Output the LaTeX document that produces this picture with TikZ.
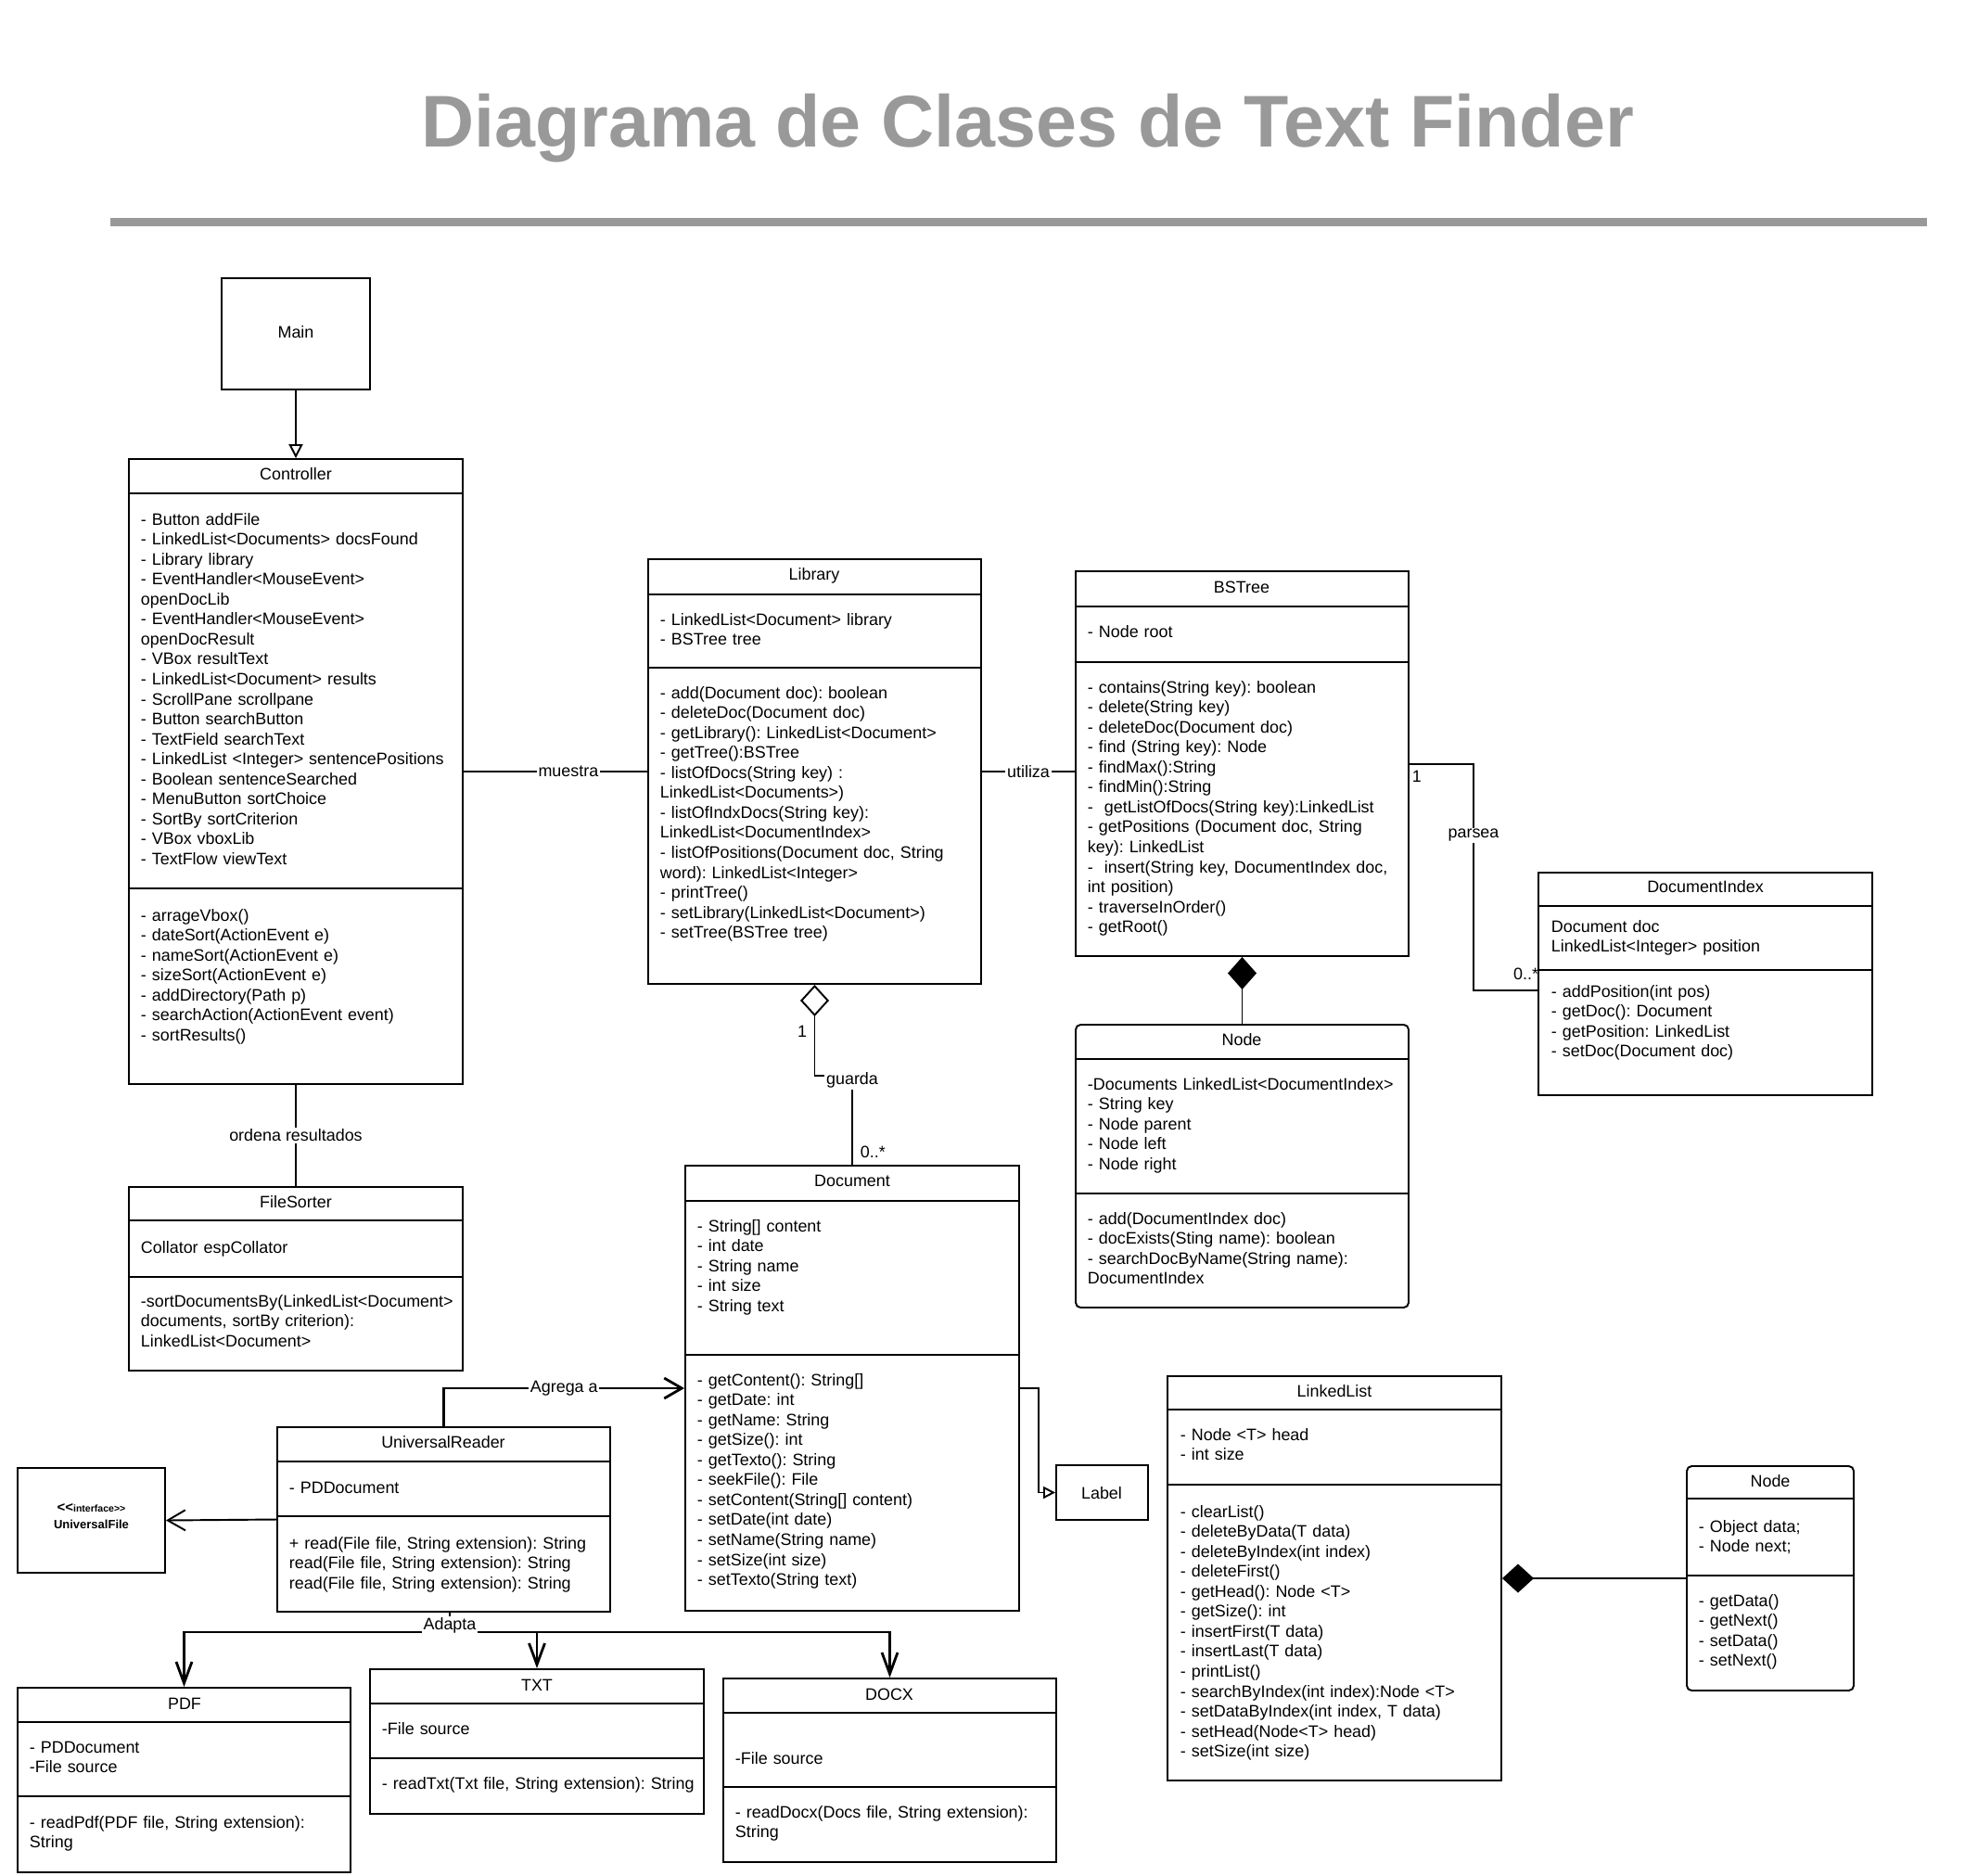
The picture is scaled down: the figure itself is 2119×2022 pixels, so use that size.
\documentclass[tikz,border=0pt]{standalone}
\usepackage{fontspec}
\setmainfont{Liberation Sans}
\usetikzlibrary{arrows.meta, fit}
\definecolor{titlegray}{HTML}{999999}
\frenchspacing

\begin{document}
\begin{tikzpicture}[x=0.02cm, y=-0.02cm, line width=1.1pt,
    every node/.style={font=\fontsize{10.2}{12.27}\selectfont},
    cls/.style={draw, inner sep=0pt},
    rcls/.style={cls, rounded corners=3pt},
    ttl/.style={anchor=base},
    txt/.style={anchor=base west, align=left, text width=8cm, inner sep=0pt},
    lab/.style={fill=white, inner sep=1pt},
    gen/.style={-{Triangle[open, length=0.3cm, width=0.3cm]}},
    barb/.style={-{Straight Barb[length=0.38cm, width=0.44cm]}},
    adapt/.style={line width=1.6pt, -{Straight Barb[length=0.46cm, width=0.34cm]}}]
    \useasboundingbox (0,0) rectangle (2119,2022);

    % 1. 标题与分隔线
    \node[ttl, font=\fontsize{45}{54}\selectfont\bfseries, text=titlegray] (title) at (1108,158) {Diagrama de Clases de Text Finder};
    \draw[titlegray, line width=0.18cm] (119,239) -- (2078,239);

    % 2. Main, Controller, FileSorter
    \node[cls, fit={(239,300) (399,420)}] (main) {};
    \node[ttl] (main-n) at (319,364) {Main};

    \node[cls, fit={(139,495) (499,1169)}] (ctrl) {};
    \draw (139,532) -- (499,532) (139,958) -- (499,958);
    \node[ttl] (ctrl-n) at (319,517) {Controller};
    \node[txt] (ctrl-a) at (151,566) {- Button addFile\\- LinkedList<Documents> docsFound\\- Library library\\- EventHandler<MouseEvent>\\openDocLib\\- EventHandler<MouseEvent>\\openDocResult\\- VBox resultText\\- LinkedList<Document> results\\- ScrollPane scrollpane\\- Button searchButton\\- TextField searchText\\- LinkedList <Integer> sentencePositions\\- Boolean sentenceSearched\\- MenuButton sortChoice\\- SortBy sortCriterion\\- VBox vboxLib\\- TextFlow viewText};
    \node[txt] (ctrl-m) at (151,993) {- arrageVbox()\\- dateSort(ActionEvent e)\\- nameSort(ActionEvent e)\\- sizeSort(ActionEvent e)\\- addDirectory(Path p)\\- searchAction(ActionEvent event)\\- sortResults()};

    \node[cls, fit={(139,1280) (499,1478)}] (fs) {};
    \draw (139,1316) -- (499,1316) (139,1377) -- (499,1377);
    \node[ttl] (fs-n) at (319,1302) {FileSorter};
    \node[txt] (fs-a) at (151,1351) {Collator espCollator};
    \node[txt] (fs-m) at (151,1409) {-sortDocumentsBy(LinkedList<Document>\\documents, sortBy criterion):\\LinkedList<Document>};

    % 3. Library, BSTree, Node, DocumentIndex
    \node[cls, fit={(699,603) (1058,1061)}] (lib) {};
    \draw (699,641) -- (1058,641) (699,720) -- (1058,720);
    \node[ttl] (lib-n) at (878,625) {Library};
    \node[txt] (lib-a) at (711,674) {- LinkedList<Document> library\\- BSTree tree};
    \node[txt] (lib-m) at (711,753) {- add(Document doc): boolean\\- deleteDoc(Document doc)\\- getLibrary(): LinkedList<Document>\\- getTree():BSTree\\- listOfDocs(String key) :\\LinkedList<Documents>)\\- listOfIndxDocs(String key):\\LinkedList<DocumentIndex>\\- listOfPositions(Document doc, String\\word): LinkedList<Integer>\\- printTree()\\- setLibrary(LinkedList<Document>)\\- setTree(BSTree tree)};

    \node[cls, fit={(1160,616) (1519,1031)}] (bst) {};
    \draw (1160,654) -- (1519,654) (1160,714) -- (1519,714);
    \node[ttl] (bst-n) at (1339,639) {BSTree};
    \node[txt] (bst-a) at (1172,687) {- Node root};
    \node[txt] (bst-m) at (1172,747) {- contains(String key): boolean\\- delete(String key)\\- deleteDoc(Document doc)\\- find (String key): Node\\- findMax():String\\- findMin():String\\-\ \ getListOfDocs(String key):LinkedList\\- getPositions (Document doc, String\\key): LinkedList\\-\ \ insert(String key, DocumentIndex doc,\\int position)\\- traverseInOrder()\\- getRoot()};

    \node[rcls, fit={(1160,1105) (1519,1410)}] (tnode) {};
    \draw (1160,1142) -- (1519,1142) (1160,1287) -- (1519,1287);
    \node[ttl] (tnode-n) at (1339,1127) {Node};
    \node[txt] (tnode-a) at (1172,1175) {-Documents LinkedList<DocumentIndex>\\- String key\\- Node parent\\- Node left\\- Node right};
    \node[txt] (tnode-m) at (1172,1320) {- add(DocumentIndex doc)\\- docExists(Sting name): boolean\\- searchDocByName(String name):\\DocumentIndex};

    \node[cls, fit={(1659,941) (2019,1181)}] (dix) {};
    \draw (1659,977) -- (2019,977) (1659,1046) -- (2019,1046);
    \node[ttl] (dix-n) at (1839,962) {DocumentIndex};
    \node[txt] (dix-a) at (1672,1005) {Document doc\\LinkedList<Integer> position};
    \node[txt] (dix-m) at (1672,1075) {- addPosition(int pos)\\- getDoc(): Document\\- getPosition: LinkedList\\- setDoc(Document doc)};

    % 4. Document, Label, UniversalReader, UniversalFile
    \node[cls, fit={(739,1257) (1099,1737)}] (doc) {};
    \draw (739,1295) -- (1099,1295) (739,1461) -- (1099,1461);
    \node[ttl] (doc-n) at (919,1279) {Document};
    \node[txt] (doc-a) at (751,1328) {- String[] content\\- int date\\- String name\\- int size\\- String text};
    \node[txt] (doc-m) at (751,1494) {- getContent(): String[]\\- getDate: int\\- getName: String\\- getSize(): int\\- getTexto(): String\\- seekFile(): File\\- setContent(String[] content)\\- setDate(int date)\\- setName(String name)\\- setSize(int size)\\- setTexto(String text)};

    \node[cls, fit={(1139,1580) (1238,1639)}] (lbl) {};
    \node[ttl] (lbl-n) at (1188,1616) {Label};

    \node[cls, fit={(299,1539) (658,1738)}] (ur) {};
    \draw (299,1576) -- (658,1576) (299,1635) -- (658,1635);
    \node[ttl] (ur-n) at (478,1561) {UniversalReader};
    \node[txt] (ur-a) at (311,1610) {- PDDocument};
    \node[txt] (ur-m) at (311,1670) {+ read(File file, String extension): String\\read(File file, String extension): String\\read(File file, String extension): String};

    \node[cls, fit={(19,1583) (178,1696)}, align=center, font=\fontsize{7.4}{10}\selectfont\bfseries] (uf) {{\fontsize{8.5}{10}\selectfont<\kern0pt<}{\fontsize{6}{10}\selectfont interface>\kern0pt>}\\UniversalFile};

    % 5. PDF, TXT, DOCX
    \node[cls, fit={(19,1820) (378,2019)}] (pdf) {};
    \draw (19,1857) -- (378,1857) (19,1937) -- (378,1937);
    \node[ttl] (pdf-n) at (199,1843) {PDF};
    \node[txt] (pdf-a) at (31,1890) {- PDDocument\\-File source};
    \node[txt] (pdf-m) at (31,1971) {- readPdf(PDF file, String extension):\\String};

    \node[cls, fit={(399,1800) (759,1956)}] (txt) {};
    \draw (399,1837) -- (759,1837) (399,1896) -- (759,1896);
    \node[ttl] (txt-n) at (579,1823) {TXT};
    \node[txt] (txt-a) at (411,1870) {-File source};
    \node[txt] (txt-m) at (411,1929) {- readTxt(Txt file, String extension): String};

    \node[cls, fit={(780,1810) (1139,2008)}] (docx) {};
    \draw (780,1847) -- (1139,1847) (780,1927) -- (1139,1927);
    \node[ttl] (docx-n) at (959,1833) {DOCX};
    \node[txt] (docx-a) at (792,1902) {-File source};
    \node[txt] (docx-m) at (792,1960) {- readDocx(Docs file, String extension):\\String};

    % 6. LinkedList 与 Node
    \node[cls, fit={(1259,1484) (1619,1920)}] (ll) {};
    \draw (1259,1520) -- (1619,1520) (1259,1601) -- (1619,1601);
    \node[ttl] (ll-n) at (1439,1506) {LinkedList};
    \node[txt] (ll-a) at (1272,1553) {- Node <T> head\\- int size};
    \node[txt] (ll-m) at (1272,1636) {- clearList()\\- deleteByData(T data)\\- deleteByIndex(int index)\\- deleteFirst()\\- getHead(): Node <T>\\- getSize(): int\\- insertFirst(T data)\\- insertLast(T data)\\- printList()\\- searchByIndex(int index):Node <T>\\- setDataByIndex(int index, T data)\\- setHead(Node<T> head)\\- setSize(int size)};

    \node[rcls, fit={(1819,1581) (1999,1823)}] (lnode) {};
    \draw (1819,1616) -- (1999,1616) (1819,1699) -- (1999,1699);
    \node[ttl] (lnode-n) at (1909,1603) {Node};
    \node[txt] (lnode-a) at (1831,1652) {- Object data;\\- Node next;};
    \node[txt] (lnode-m) at (1831,1732) {- getData()\\- getNext()\\- setData()\\- setNext()};

    % 7. 关系连线与标注
    \draw[gen] (main.south) -- (ctrl.north);
    \draw (ctrl.east) -- node[lab, pos=0.57] (muestra) {muestra} (lib.west);
    \draw (ctrl.south) -- node[lab] (ordena) {ordena resultados} (fs.north);
    \draw (lib.east) -- node[lab] (utiliza) {utiliza} (lib.east -| bst.west);

    \draw[line width=1.5pt] (bst.east |- 0,824) -- ++(69,0) |- (dix.west |- 0,1068);
    \node[lab] (parsea) at (1589,901) {parsea};
    \node[anchor=west, inner sep=0pt] (parsea-1) at (1522,837) {1};
    \node[anchor=east, inner sep=0pt] (parsea-n) at (1660,1050) {0..*};

    \draw[{Diamond[open, length=0.68cm, width=0.62cm]}-] (lib.south) |- (doc.north |- 0,1160) -- (doc.north);
    \node[lab] (guarda) at (919,1165) {guarda};
    \node[inner sep=0pt] (guarda-1) at (865,1112) {1};
    \node[anchor=west, inner sep=0pt] (guarda-n) at (927,1242) {0..*};

    \draw[{Diamond[length=0.7cm, width=0.62cm]}-] (bst.south) -- (tnode.north);
    \draw[{Diamond[length=0.68cm, width=0.62cm]}-] (ll.east) -- (lnode.west);

    \draw[barb, line width=1.6pt] (ur.north) |- node[lab, pos=0.75] (agrega) {Agrega a} (doc.west);
    \draw[barb] (ur.west) -- (uf.east);
    \draw[-{Triangle[open, length=0.26cm, width=0.26cm]}] (doc.east) -- ++(20,0) |- (lbl.west);

    \coordinate (bus) at (485,1760);
    \draw (ur.south -| bus) -- (bus);
    \draw[adapt] (bus) -| (pdf.north);
    \draw[adapt] (bus) -| (txt.north);
    \draw[adapt] (bus) -| (docx.north);
    \node[lab] (adapta) at (485,1753) {Adapta};
\end{tikzpicture}
\end{document}
